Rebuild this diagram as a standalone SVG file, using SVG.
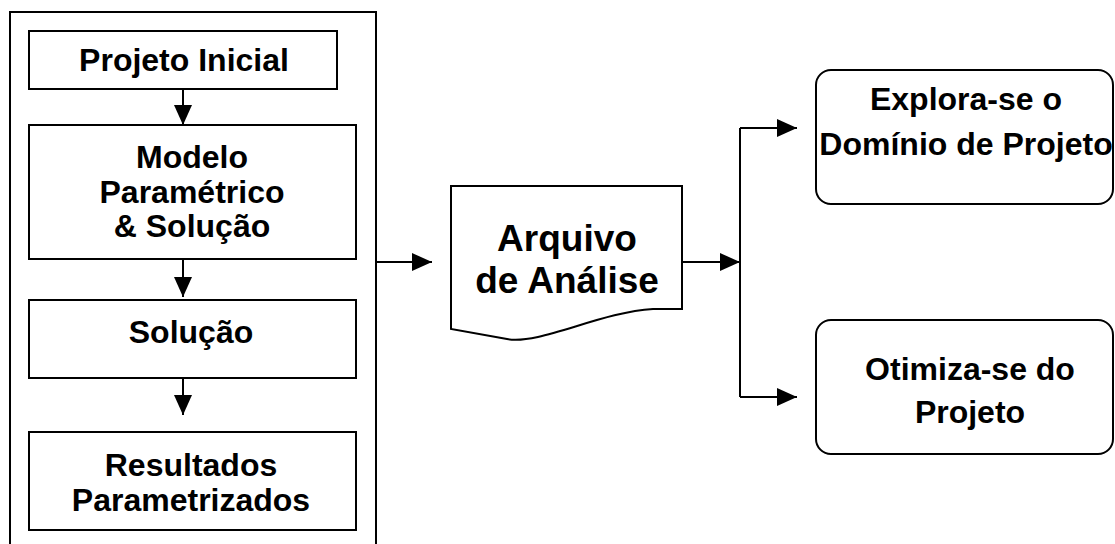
<svg xmlns="http://www.w3.org/2000/svg" width="1115" height="544" viewBox="0 0 1115 544">
<style>
.box{fill:#fff;stroke:#000;stroke-width:2}
.frame{fill:none;stroke:#000;stroke-width:2}
.t{font-family:"Liberation Sans",Arial,sans-serif;font-weight:bold;font-size:32px;text-anchor:middle;fill:#000}
.tb{font-size:37px}
.c{fill:none;stroke:#000;stroke-width:2}
</style>
<defs>
<marker id="ah" markerWidth="20" markerHeight="20" refX="20" refY="10" orient="auto" markerUnits="userSpaceOnUse" viewBox="0 0 20 20">
<path d="M0,1 L20,10 L0,19 Z" fill="#000"/>
</marker>
</defs>
<g id="frame"><rect class="frame" x="10" y="12" width="366" height="545"/></g>
<g id="n-projeto-inicial"><rect class="box" x="29" y="31" width="308" height="58"/><text class="t" x="184" y="71">Projeto Inicial</text></g>
<g id="n-modelo"><rect class="box" x="29" y="125" width="327" height="134"/><text class="t" x="192" y="168">Modelo</text><text class="t" x="192" y="203">Paramétrico</text><text class="t" x="192" y="237">&amp; Solução</text></g>
<g id="n-solucao"><rect class="box" x="29" y="300" width="327" height="78"/><text class="t" x="191" y="343">Solução</text></g>
<g id="n-resultados"><rect class="box" x="29" y="432" width="327" height="98"/><text class="t" x="191" y="476">Resultados</text><text class="t" x="191" y="511">Parametrizados</text></g>
<g id="n-arquivo"><path class="box" d="M451,186 H682 V309 L653,309 C600,312 540,345 507,339 L451,329 Z"/><text class="t tb" x="567" y="251">Arquivo</text><text class="t tb" x="567" y="293">de Análise</text></g>
<g id="n-explora"><rect class="box" x="816" y="70" width="297" height="134" rx="15"/><text class="t" x="966" y="110">Explora-se o</text><text class="t" x="966" y="155">Domínio de Projeto</text></g>
<g id="n-otimiza"><rect class="box" x="816" y="320" width="297" height="134" rx="15"/><text class="t" x="970" y="380">Otimiza-se do</text><text class="t" x="970" y="423">Projeto</text></g>
<g id="connectors">
<path class="c" d="M183,89 V125" marker-end="url(#ah)"/>
<path class="c" d="M183,259 V297" marker-end="url(#ah)"/>
<path class="c" d="M183,378 V415" marker-end="url(#ah)"/>
<path class="c" d="M376,262 H432" marker-end="url(#ah)"/>
<path class="c" d="M682,262 H740" marker-end="url(#ah)"/>
<path class="c" d="M740,128 V397"/>
<path class="c" d="M740,128 H797" marker-end="url(#ah)"/>
<path class="c" d="M740,397 H797" marker-end="url(#ah)"/>
</g>
</svg>
